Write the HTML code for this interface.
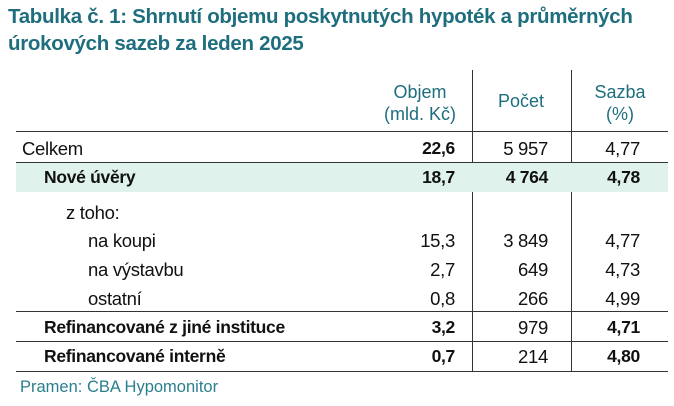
<!DOCTYPE html>
<html><head><meta charset="utf-8"><style>
body{margin:0;width:674px;height:406px;background:#fff;position:relative;overflow:hidden;font-family:"Liberation Sans",sans-serif;color:#111}
.t{position:absolute;white-space:nowrap}
.title{left:8px;font-weight:bold;font-size:20.5px;color:#1e6e7e;letter-spacing:-0.3px}
.h{color:#1e6e7e;font-size:18px;text-align:center;width:100px;line-height:22px}
.r{position:absolute;left:16px;width:652px;height:29px;font-size:18.5px;letter-spacing:-0.3px}
.r span{position:absolute;top:4px;white-space:nowrap}
.v1{right:213px}.v2{right:120px}.v3{right:28px}
.b{font-weight:bold;font-size:17.5px}
.hl{position:absolute;left:16px;width:652px;height:1px;background:#333}
.vl{position:absolute;top:70px;width:1px;height:302px;background:#333}
</style></head><body>
<div class="t title" style="top:5px">Tabulka č. 1: Shrnutí objemu poskytnutých hypoték a průměrných</div>
<div class="t title" style="top:32px">úrokových sazeb za leden 2025</div>
<div class="t h" style="left:370px;top:81px">Objem<br>(mld. Kč)</div>
<div class="t h" style="left:471px;top:90px">Počet</div>
<div class="t h" style="left:570px;top:81px">Sazba<br>(%)</div>
<div class="vl" style="left:472px"></div>
<div class="vl" style="left:571px"></div>
<div class="hl" style="top:131px"></div>
<div class="r" style="top:134px"><span style="left:6px">Celkem</span><span class="v1 b">22,6</span><span class="v2">5 957</span><span class="v3">4,77</span></div>
<div class="hl" style="top:162px"></div>
<div class="r" style="top:163px;background:#dff3ec"><span style="left:28px" class="b">Nové úvěry</span><span class="v1 b">18,7</span><span class="v2 b">4 764</span><span class="v3 b">4,78</span></div>
<div class="r" style="top:198px"><span style="left:50px">z toho:</span></div>
<div class="r" style="top:226px"><span style="left:72px">na koupi</span><span class="v1">15,3</span><span class="v2">3 849</span><span class="v3">4,77</span></div>
<div class="r" style="top:255px"><span style="left:72px">na výstavbu</span><span class="v1">2,7</span><span class="v2">649</span><span class="v3">4,73</span></div>
<div class="r" style="top:284px"><span style="left:72px">ostatní</span><span class="v1">0,8</span><span class="v2">266</span><span class="v3">4,99</span></div>
<div class="hl" style="top:311px"></div>
<div class="r" style="top:313px"><span style="left:28px" class="b">Refinancované z jiné instituce</span><span class="v1 b">3,2</span><span class="v2">979</span><span class="v3 b">4,71</span></div>
<div class="hl" style="top:341px"></div>
<div class="r" style="top:342px"><span style="left:28px" class="b">Refinancované interně</span><span class="v1 b">0,7</span><span class="v2">214</span><span class="v3 b">4,80</span></div>
<div class="hl" style="top:371px"></div>
<div class="t" style="left:20px;top:378px;font-size:16.5px;color:#2a7f8e">Pramen: ČBA Hypomonitor</div>
</body></html>
